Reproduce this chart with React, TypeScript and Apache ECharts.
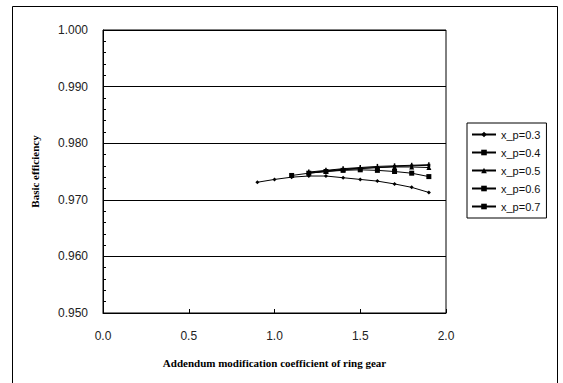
import React, { useEffect, useRef } from "react";
import * as echarts from "echarts";

const xValues = [0.9, 1.0, 1.1, 1.2, 1.3, 1.4, 1.5, 1.6, 1.7, 1.8, 1.9];
const seriesNames = ["x_p=0.3", "x_p=0.4", "x_p=0.5", "x_p=0.6", "x_p=0.7"];
const xp03 = [0.9731, 0.9736, 0.974, 0.9742, 0.9742, 0.9739, 0.9736, 0.9733, 0.9728, 0.9722, 0.9713];
const xp04 = [null, null, 0.9743, 0.9747, 0.975, 0.9752, 0.9753, 0.9752, 0.975, 0.9747, 0.9741];
const xp05 = [null, null, null, 0.9748, 0.9751, 0.9754, 0.9756, 0.9757, 0.9758, 0.9758, 0.9757];
const xp06 = [null, null, null, 0.9749, 0.9752, 0.9755, 0.9757, 0.9759, 0.976, 0.9761, 0.9762];
const xp07 = [null, null, null, 0.9747, 0.975, 0.9753, 0.9755, 0.9757, 0.9759, 0.976, 0.9761];
const yTicks = [0.95, 0.96, 0.97, 0.98, 0.99, 1.0];
const xTicks = [0, 0.5, 1.0, 1.5, 2.0];

const symbols = ["diamond", "rect", "triangle", "rect", "rect"];
const symbolSizes: any[] = [4, 5, 5, [1.5, 5], 3];

export default function App() {
  const ref = useRef<HTMLDivElement>(null);
  useEffect(() => {
    const chart = echarts.init(ref.current!, null, { renderer: "svg" });
    const allData = [xp03, xp04, xp05, xp06, xp07];
    const series = allData.map((arr, i) => ({
      name: seriesNames[i],
      type: "line",
      data: xValues.map((x, j) => (arr[j] == null ? null : [x, arr[j]])).filter((d) => d !== null),
      symbol: symbols[i],
      symbolSize: symbolSizes[i],
      showSymbol: true,
      itemStyle: { color: "#000" },
      lineStyle: { color: "#000", width: 1 },
      z: 3,
    }));
    chart.setOption({
      animation: false,
      backgroundColor: "#fff",
      graphic: [
        {
          type: "rect",
          shape: { x: 12.5, y: 6.5, width: 545, height: 390 },
          style: { fill: "none", stroke: "#000", lineWidth: 1 },
          silent: true,
        },
      ],
      grid: {
        left: 103,
        right: 117,
        top: 30,
        bottom: 70,
        show: true,
        borderColor: "#000",
        borderWidth: 1,
        backgroundColor: "transparent",
      },
      legend: {
        orient: "vertical",
        left: 467,
        top: 123,
        width: 80,
        padding: [6, 6, 6, 4],
        borderColor: "#000",
        borderWidth: 1,
        itemGap: 7,
        itemWidth: 24,
        itemHeight: 7,
        textStyle: { fontFamily: "Liberation Sans", fontSize: 11, color: "#111" },
        data: seriesNames.map((n, i) => ({ name: n, itemStyle: { color: "#000" } })),
      },
      xAxis: {
        type: "value",
        min: 0,
        max: 2,
        interval: 0.5,
        name: "Addendum modification coefficient of ring gear",
        nameLocation: "middle",
        nameGap: 44,
        nameTextStyle: { fontFamily: "Liberation Serif", fontWeight: "bold", fontSize: 11, color: "#000" },
        axisLine: { lineStyle: { color: "#000" } },
        axisTick: { inside: true, length: 4, lineStyle: { color: "#000" } },
        splitLine: { show: false },
        axisLabel: {
          margin: 17,
          fontFamily: "Liberation Sans",
          fontSize: 12,
          color: "#222",
          formatter: (v: number) => (xTicks.includes(v) ? v.toFixed(1) : ""),
        },
      },
      yAxis: {
        type: "value",
        min: yTicks[0],
        max: yTicks[yTicks.length - 1],
        interval: 0.01,
        name: "Basic efficiency",
        nameLocation: "middle",
        nameGap: 63,
        nameTextStyle: { fontFamily: "Liberation Serif", fontWeight: "bold", fontSize: 11, color: "#000" },
        axisLine: { show: true, lineStyle: { color: "#000" } },
        axisTick: { show: false, inside: true },
        minorTick: { show: true, splitNumber: 5, length: 3, lineStyle: { color: "#000" } },
        splitLine: { show: true, lineStyle: { color: "#000", width: 1 } },
        axisLabel: {
          margin: 15,
          fontFamily: "Liberation Sans",
          fontSize: 12,
          color: "#222",
          formatter: (v: number) => v.toFixed(3),
        },
      },
      series,
    });
    return () => chart.dispose();
  }, []);
  return (
    <div
      ref={ref}
      style={{ position: "fixed", left: 0, top: 0, width: 563, height: 383, background: "#fff" }}
    />
  );
}
